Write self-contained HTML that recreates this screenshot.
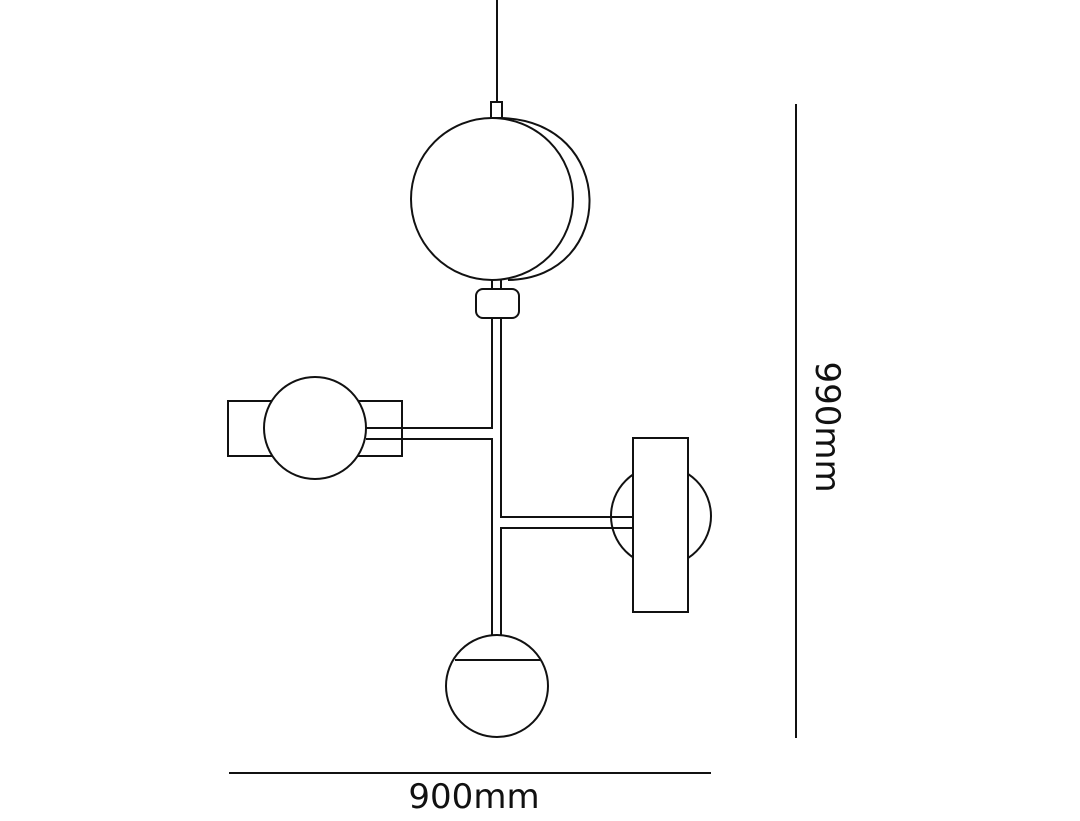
<!DOCTYPE html>
<html><head><meta charset="utf-8"><style>
html,body{margin:0;padding:0;background:#fff;}
svg{display:block;}
text{font-family:"DejaVu Sans","Liberation Sans",sans-serif;fill:#111;}
</style></head><body>
<svg width="1080" height="821" viewBox="0 0 1080 821" xmlns="http://www.w3.org/2000/svg">
<g fill="none" stroke="#111" stroke-width="2">
<!-- cable -->
<line x1="497" y1="0" x2="497" y2="102"/>
<rect x="491" y="102" width="11" height="16" fill="#fff"/>
<!-- crescent -->
<path d="M500,118 C618,120 618,278 508,280"/>
<!-- big ball -->
<circle cx="492" cy="199" r="81" fill="#fff"/>
<!-- knob -->
<line x1="492" y1="280" x2="492" y2="289"/>
<line x1="501" y1="280" x2="501" y2="289"/>
<rect x="476" y="289" width="43" height="29" rx="7" fill="#fff"/>
<!-- stem -->
<polyline points="492,318 492,428 366,428"/>
<polyline points="366,439 492,439 492,637"/>
<polyline points="501,318 501,517 633,517"/>
<polyline points="633,528 501,528 501,637"/>
<!-- left lamp -->
<rect x="228" y="401" width="174" height="55" fill="#fff"/>
<circle cx="315" cy="428" r="51" fill="#fff"/>
<line x1="366" y1="428" x2="402" y2="428"/>
<line x1="366" y1="439" x2="402" y2="439"/>
<!-- right lamp -->
<circle cx="661" cy="516" r="50" fill="#fff"/>
<rect x="633" y="438" width="55" height="174" fill="#fff"/>
<line x1="610" y1="517" x2="633" y2="517"/>
<line x1="610" y1="528" x2="633" y2="528"/>
<!-- bottom ball -->
<circle cx="497" cy="686" r="51" fill="#fff"/>
<line x1="455" y1="660" x2="540" y2="660"/>
<!-- dims -->
<line x1="796" y1="104" x2="796" y2="738"/>
<line x1="229" y1="773" x2="711" y2="773"/>
</g>
<text x="474" y="808" font-size="34" text-anchor="middle">900mm</text>
<text x="0" y="0" font-size="34" text-anchor="middle" transform="translate(816,427) rotate(90)">990mm</text>
</svg>
</body></html>
